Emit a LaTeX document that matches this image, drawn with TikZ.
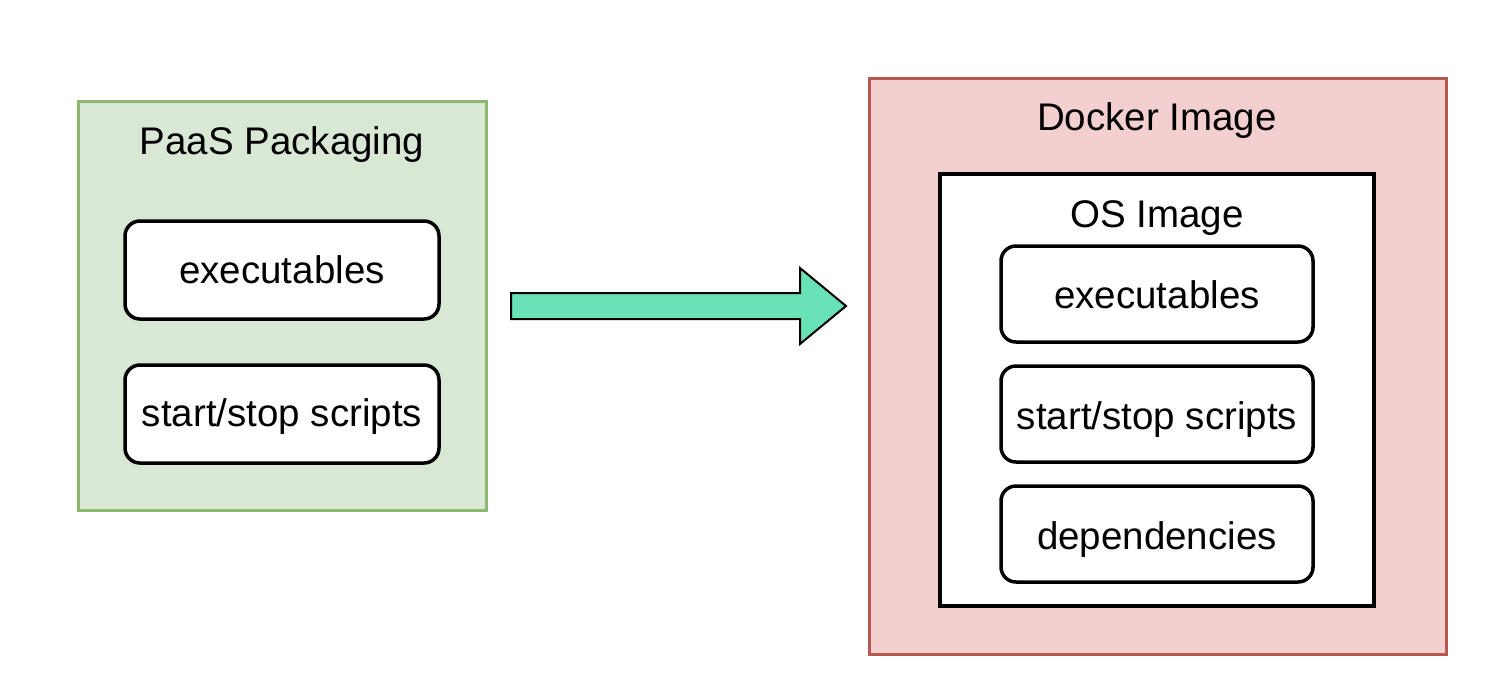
\documentclass[tikz,border=0pt]{standalone}
\usepackage{fontspec}
\setmainfont{Liberation Sans}
\definecolor{gfill}{HTML}{D8E8D4}
\definecolor{gdraw}{HTML}{8BB86F}
\definecolor{rfill}{HTML}{F3D0CF}
\definecolor{rdraw}{HTML}{B65852}
\definecolor{afill}{HTML}{68E2B6}
\begin{document}
\begin{tikzpicture}[x=1pt,y=-1pt,
  lbl/.style={font=\fontsize{38.5}{44}\selectfont, inner sep=0pt, anchor=base},
  item/.style={draw=black, line width=3.5pt, fill=white, rounded corners=15pt},
]
\fill[white] (0,0) rectangle (1506,696);
\useasboundingbox (0,0) rectangle (1506,696);
% left container
\draw[draw=gdraw, fill=gfill, line width=3pt] (78,101) rectangle (486,510);
\node[lbl] (paas) at (282,154) {PaaS Packaging};
\draw[item] (125,221) rectangle (439,319);
\node[lbl] (lexe) at (282,283) {executables};
\draw[item] (125,365) rectangle (439,463);
\node[lbl] (lss) at (282,426) {start/stop scripts};
% arrow
\draw[fill=afill, draw=black, line width=2pt, line join=miter]
  (511,293) -- (800,293) -- (800,268) -- (846,306) -- (800,344) -- (800,319) -- (511,319) -- cycle;
% right container
\draw[draw=rdraw, fill=rfill, line width=3pt] (869,78) rectangle (1446,654);
\node[lbl] (docker) at (1157,130) {Docker Image};
\draw[draw=black, fill=white, line width=3.5pt] (940,174) rectangle (1374,606);
\node[lbl] (os) at (1157,227) {OS Image};
\draw[item] (1001,246) rectangle (1313,342);
\node[lbl] (rexe) at (1157,308) {executables};
\draw[item] (1001,366) rectangle (1313,462);
\node[lbl] (rss) at (1157,429) {start/stop scripts};
\draw[item] (1001,486) rectangle (1313,582);
\node[lbl] (rdep) at (1157,549) {dependencies};
\end{tikzpicture}
\end{document}
